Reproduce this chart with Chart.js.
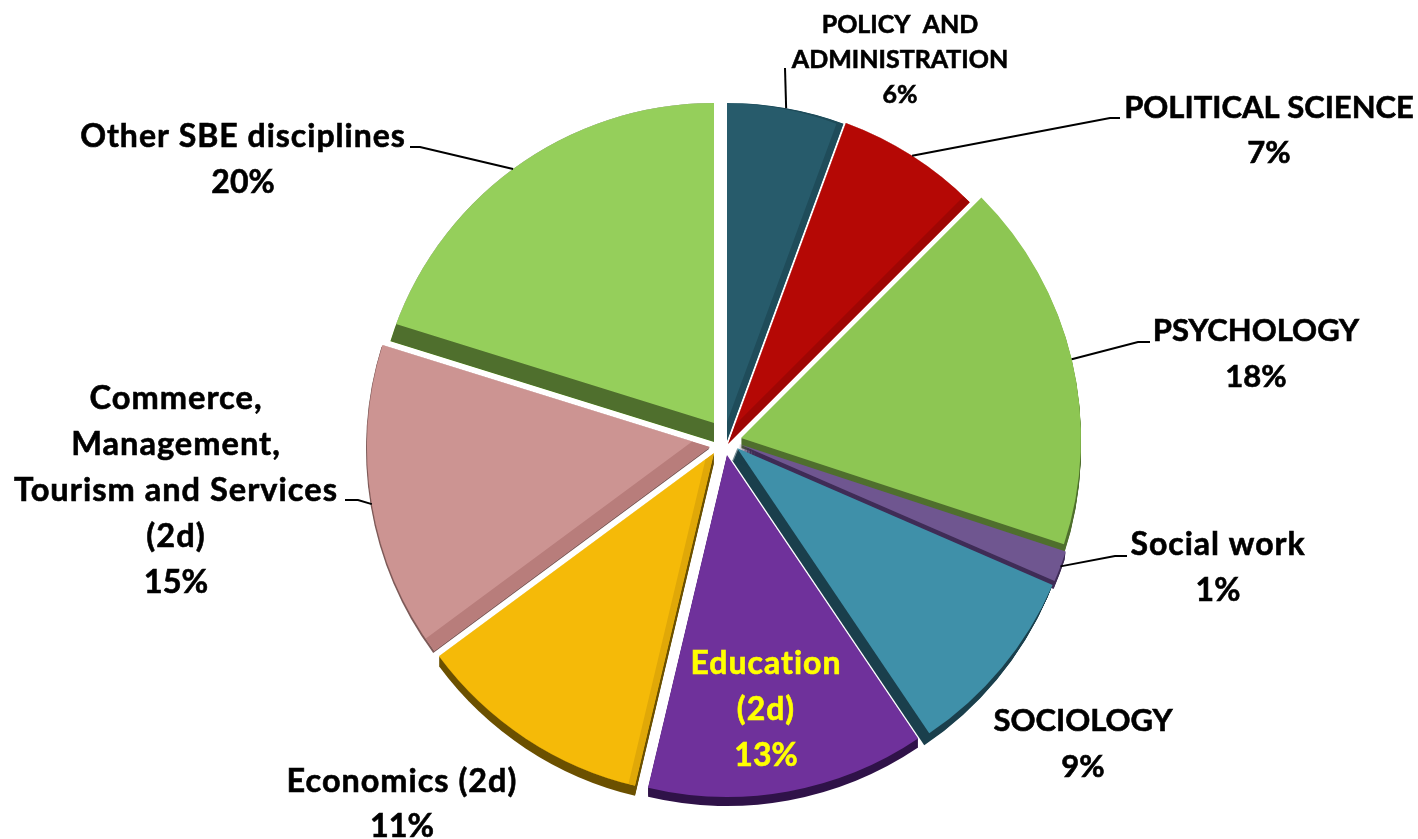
<!DOCTYPE html>
<html>
<head>
<meta charset="utf-8">
<title>SBE disciplines</title>
<script src="https://cdn.jsdelivr.net/npm/chart.js@4/dist/chart.umd.min.js"></script>
<style>
  html, body { margin: 0; padding: 0; background: #fff; }
  #wrap { position: relative; width: 1418px; height: 839px; overflow: hidden; }
</style>
</head>
<body>
<div id="wrap"><canvas id="pie" width="1418" height="839"></canvas></div>
<script>
const categories = ['POLICY AND ADMINISTRATION', 'POLITICAL SCIENCE', 'PSYCHOLOGY', 'Social work', 'SOCIOLOGY',
  'Education (2d)', 'Economics (2d)', 'Commerce, Management, Tourism and Services (2d)', 'Other SBE disciplines'];
// they round to the printed percentages
const shares = [5.6, 6.9, 17.57, 1.45, 9.05, 13.15, 11.16, 14.94, 20.2];

const topColors  = ['#275b6b', '#b50805', '#8dc653', '#6f5690', '#3f90a9', '#6f319b', '#f5ba08', '#cc9492', '#95cf5b'];
const bandColors = ['#1f4c5a', '#9e0604', '#4f6f2d', '#3f2c56', '#1a3f4c', '#5d2884', '#e0a808', '#b87d7b', '#4f6f2d'];
const rimColors  = ['#1f4c5a', '#8a0504', '#4f6f2d', '#3f2c56', '#1a3f4c', '#2f1248', '#6b5000', '#7d5a58', '#4f6f2d'];

// exploded look: each slice tip moved from the pie centre [x, y], and its own radius
const explode = [[1, -6], [2, -3], [15, -9], [13, -3], [11, 1], [1, 8], [-12, 6], [-16, 0], [-12, -5]];
const radii   = [338, 342, 340, 344, 344, 342, 342, 343, 339];
// dark band inside the slice: how far the lit face is moved from the outline
const bandShift = [[-7, 0], [-6, -6], [0, 0], [0, 0], [0, 0], [0, 0], [-7, 0], [-9, -12], [0, -19]];
// side wall under the slice
const rimDepth  = [[0, 0], [0, 0], [0, 10], [-1, 8], [-5, 12], [0, 9], [0, 10], [-1, 2], [0, 0]];

const labelLines = [
  ['POLICY  AND', 'ADMINISTRATION', '6%'],
  ['POLITICAL SCIENCE', '7%'],
  ['PSYCHOLOGY', '18%'],
  ['Social work', '1%'],
  ['SOCIOLOGY', '9%'],
  ['Education', '(2d)', '13%'],
  ['Economics (2d)', '11%'],
  ['Commerce,', 'Management,', 'Tourism and Services', '(2d)', '15%'],
  ['Other SBE disciplines', '20%']
];
// label layout: centre x, first line middle y, line step, font px, colour
const labelBox = [
  [900, 25, 35, 25, '#000'],
  [1269, 108, 45, 31, '#000'],
  [1256, 331, 46, 31, '#000'],
  [1218, 545, 46, 32, '#000'],
  [1083, 721, 46, 31, '#000'],
  [766, 664, 46, 32, '#ffff00'],
  [402, 782, 45, 32.4, '#000'],
  [176, 398, 46, 32.6, '#000'],
  [243, 137, 46, 32, '#000']
];
// leader lines run from the middle of the slice arc to these points
const leaderEnd = [
  [[785, 68]],
  [[1110, 118], [1120, 118]],
  [[1138, 342], [1150, 342]],
  [[1115, 556], [1127, 556]],
  null, null, null,
  [[358, 500], [345, 500]],
  [[420, 147], [410, 147]]
];

function slicePath(ctx, el, dx, dy) {
  ctx.moveTo(el.x + dx, el.y + dy);
  ctx.arc(el.x + dx, el.y + dy, el.outerRadius, el.startAngle, el.endAngle);
  ctx.closePath();
}

const depthPlugin = {
  id: 'depth',
  afterDatasetsUpdate(chart) {
    chart.getDatasetMeta(0).data.forEach((el, i) => {
      el.x += explode[i][0];
      el.y += explode[i][1];
      el.outerRadius = radii[i];
    });
  },
  beforeDatasetsDraw(chart) {
    const { ctx } = chart;
    chart.getDatasetMeta(0).data.forEach((el, i) => {
      const [rx, ry] = rimDepth[i];
      const steps = Math.max(Math.abs(rx), Math.abs(ry));
      ctx.fillStyle = rimColors[i];
      for (let s = 1; s <= steps; s++) {
        ctx.beginPath();
        slicePath(ctx, el, rx * s / steps, ry * s / steps);
        ctx.fill();
      }
    });
  },
  afterDatasetsDraw(chart) {
    const { ctx } = chart;
    chart.getDatasetMeta(0).data.forEach((el, i) => {
      const [dx, dy] = bandShift[i];
      if (!dx && !dy) return;
      ctx.save();
      ctx.beginPath();
      slicePath(ctx, el, 0, 0);
      ctx.clip();
      ctx.beginPath();
      slicePath(ctx, el, 0, 0);
      slicePath(ctx, el, dx, dy);
      ctx.fillStyle = bandColors[i];
      ctx.fill('evenodd');
      ctx.restore();
    });
  }
};

const labelPlugin = {
  id: 'sliceLabels',
  afterDraw(chart) {
    const { ctx } = chart;
    ctx.save();
    chart.getDatasetMeta(0).data.forEach((el, i) => {
      if (leaderEnd[i]) {
        const mid = (el.startAngle + el.endAngle) / 2;
        ctx.beginPath();
        ctx.moveTo(el.x + Math.cos(mid) * el.outerRadius, el.y + Math.sin(mid) * el.outerRadius);
        leaderEnd[i].forEach(p => ctx.lineTo(p[0], p[1]));
        ctx.strokeStyle = '#000';
        ctx.lineWidth = 2;
        ctx.stroke();
      }
      const [x, y, step, size, color] = labelBox[i];
      ctx.font = `bold ${size}px Lato, "Open Sans", sans-serif`;
      ctx.textAlign = 'center';
      ctx.textBaseline = 'middle';
      ctx.fillStyle = color;
      ctx.strokeStyle = color;
      ctx.lineWidth = 0.6;
      labelLines[i].forEach((line, k) => {
        // the caps lines already have the right width, mixed case runs a bit wider
        ctx.letterSpacing = /[a-z]/.test(line) && size > 30 ? '1px' : '0px';
        ctx.fillText(line, x, y + k * step);
        ctx.strokeText(line, x, y + k * step);
      });
    });
    ctx.restore();
  }
};

new Chart(document.getElementById('pie'), {
  type: 'pie',
  data: {
    labels: categories,
    datasets: [{
      data: shares,
      backgroundColor: topColors,
      borderWidth: 0
    }]
  },
  options: {
    responsive: false,
    animation: false,
    radius: 340,
    layout: { padding: { left: 34, right: 0, top: 55, bottom: 0 } },
    plugins: { legend: { display: false }, tooltip: { enabled: false } }
  },
  plugins: [depthPlugin, labelPlugin]
});
</script>
</body>
</html>
